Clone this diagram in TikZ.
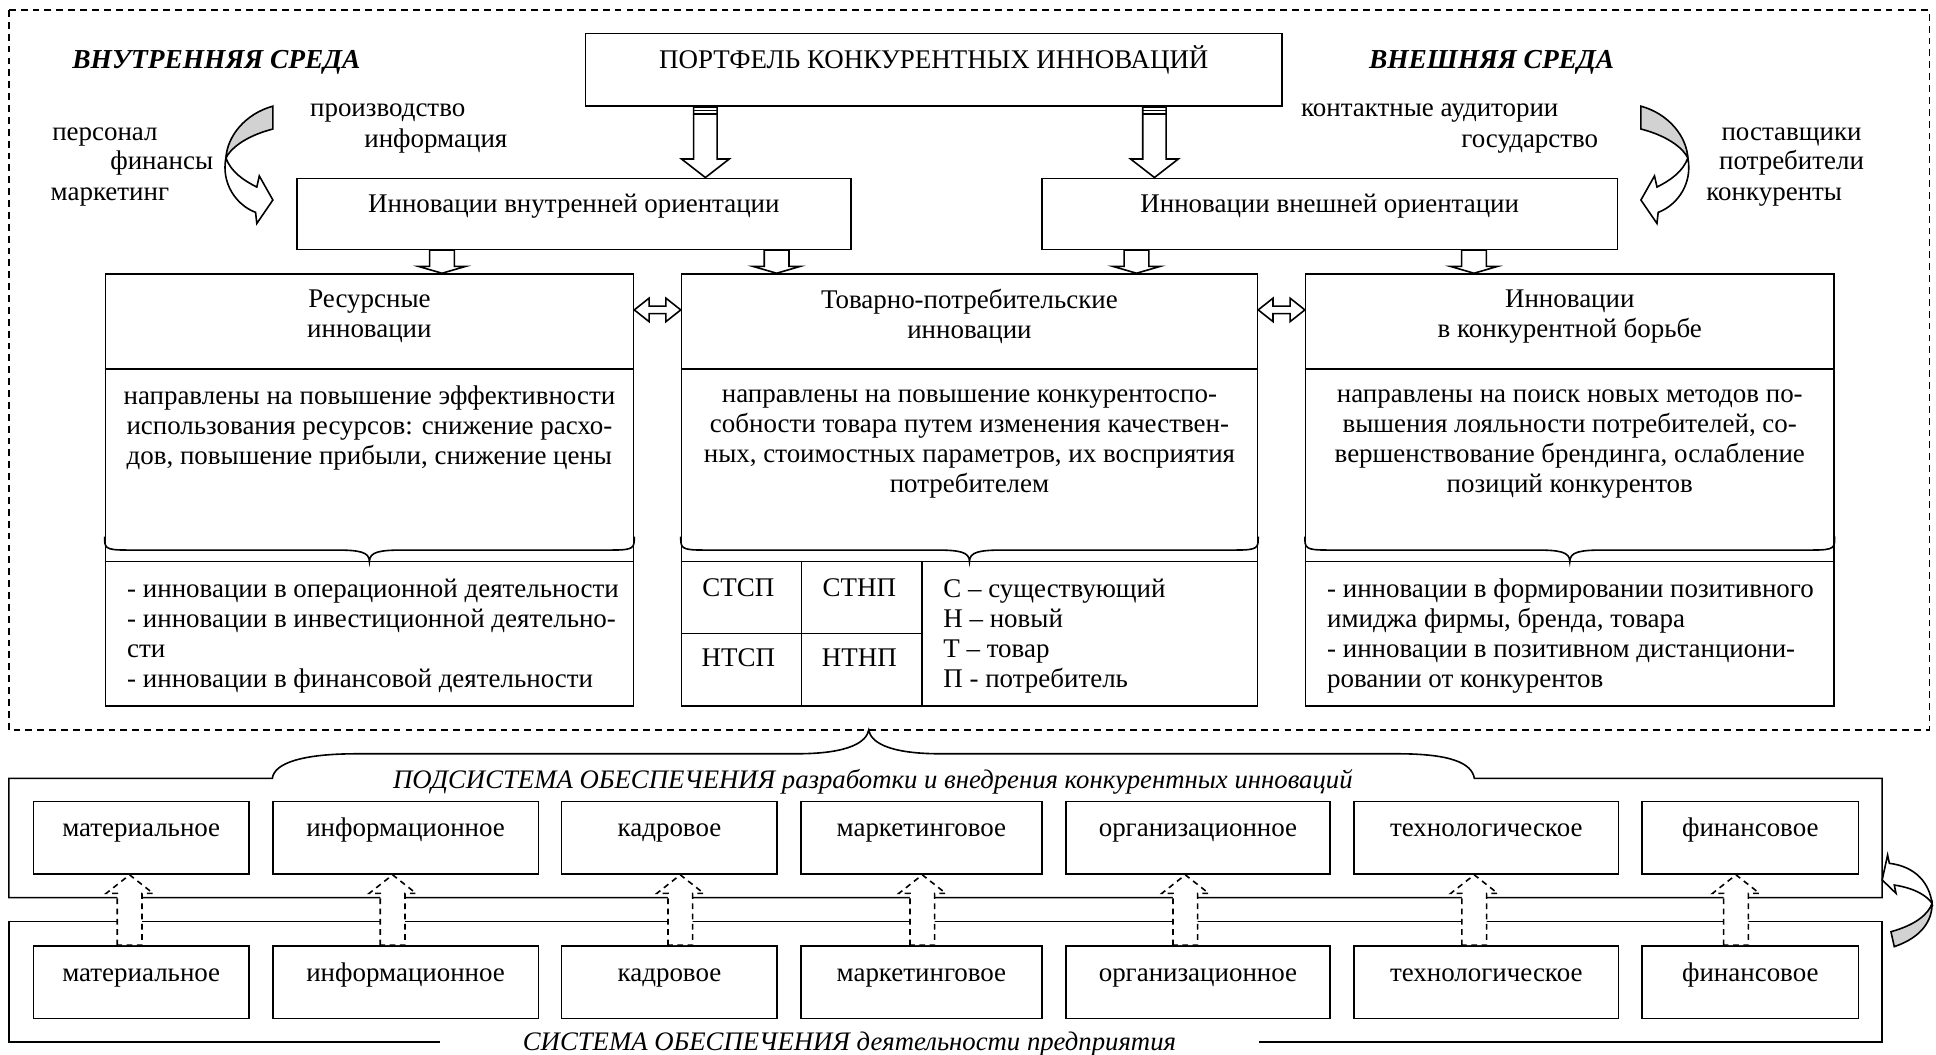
\documentclass[tikz,border=0pt]{standalone}
\usepackage{fontspec}
\setmainfont{Liberation Serif}
\usetikzlibrary{calc}

\newcommand\pxu{0.019cm}
% vertical block arrow: [opts]{from}{to}{shaft half width}{head half width}{head length, <0 when pointing up}
\newcommand\vblock[6][]{%
  \draw[fill=white,#1] let \p1=#2, \p2=#3, \n1={\y2+(#6)*\pxu} in
    (\x1-#4*\pxu,\y1) -- (\x1-#4*\pxu,\n1) -- (\x1-#5*\pxu,\n1)
    -- (\x1,\y2) -- (\x1+#5*\pxu,\n1) -- (\x1+#4*\pxu,\n1)
    -- (\x1+#4*\pxu,\y1) -- cycle;}
% horizontal double block arrow
\newcommand\hdouble[2]{%
  \draw[fill=white] let \p1=#1, \p2=#2 in
    (\x1,\y1) -- (\x1+12*\pxu,\y1+9.5*\pxu) -- (\x1+12*\pxu,\y1+3*\pxu) -- (\x2-12*\pxu,\y1+3*\pxu)
    -- (\x2-12*\pxu,\y1+9.5*\pxu) -- (\x2,\y1) -- (\x2-12*\pxu,\y1-9.5*\pxu) -- (\x2-12*\pxu,\y1-3*\pxu)
    -- (\x1+12*\pxu,\y1-3*\pxu) -- (\x1+12*\pxu,\y1-9.5*\pxu) -- cycle;}

\tikzset{curvarr/.pic={
  \draw[fill=gray!35] (0,0) .. controls (-22,6) and (-37,24) .. (-38,42)
    .. controls (-35,35.5) and (-24,24.7) .. (0,18.5) -- cycle;
  \draw[fill=white] (-38,42) .. controls (-42,62) and (-30,80) .. (-14,86) -- (-13,95) -- (0,76)
    -- (-11,56.5) -- (-13,65.5) .. controls (-24,60) and (-34,53) .. (-38,42) -- cycle;
}}

\begin{document}
\begin{tikzpicture}[x=\pxu, y=-\pxu, line width=0.7pt,
    font=\fontsize{11.8}{13.1}\selectfont,
    box/.style={draw, inner sep=0pt},
    upbox/.style={box, text height=8.5pt, text depth=9.3pt},
    txt/.style={inner sep=0pt, text height=8.5pt, text depth=2.6pt},
    para/.style={inner sep=0pt, align=center},
    lst/.style={inner sep=0pt, align=left, anchor=west},
    sreda/.style={txt, font=\fontsize{12}{13.1}\selectfont\bfseries\itshape},
    subsys/.style={txt, font=\fontsize{11.7}{13.1}\selectfont\itshape}]
  \useasboundingbox (0,0) rectangle (1568,854);

  % environment of the portfolio
  \draw[dash pattern=on 3pt off 2.2pt] (7.2,8.1) rectangle (1562.6,591.2);

  \node (port) [upbox, minimum width=564*\pxu, minimum height=59*\pxu] at (756.3,56.5) {ПОРТФЕЛЬ КОНКУРЕНТНЫХ ИННОВАЦИЙ};
  \node (inor) [upbox, minimum width=448.7*\pxu, minimum height=57.5*\pxu] at (464.8,173.2) {Инновации внутренней ориентации};
  \node (exor) [upbox, minimum width=466*\pxu, minimum height=57.5*\pxu] at (1077,173.2) {Инновации внешней ориентации};

  \node[sreda] (vnutr) at (175.3,50) {ВНУТРЕННЯЯ СРЕДА};
  \node[sreda] (vnesh) at (1208,50) {ВНЕШНЯЯ СРЕДА};
  \foreach \t/\xx/\yy [count=\i] in {персонал/85/108, финансы/131/132, маркетинг/89/157,
      производство/314/89, информация/353/114, контактные аудитории/1158/89, государство/1239/114,
      поставщики/1451/108, потребители/1451/132, конкуренты/1437/157}
    \node[txt] (env\i) at (\xx,\yy) {\t};

  \pic at (221,86) {curvarr};
  \pic[xscale=-1] at (1329,86) {curvarr};

  % striped arrows from the portfolio
  \foreach \xx/\b in {571.3/inor, 935/exor}{
    \vblock{(\xx,0 |- port.south)}{(\xx,0 |- \b.north)}{9.5}{19.3}{15}
    \draw (\xx-9.5,89.5) -- (\xx+9.5,89.5) (\xx-9.5,92.3) -- (\xx+9.5,92.3);
  }

  % three kinds of innovations
  \node (res) [box, minimum width=427.7*\pxu, minimum height=349.9*\pxu] at (299.2,396.9) {};
  \node (tov) [box, minimum width=466.4*\pxu, minimum height=349.9*\pxu] at (785.2,396.9) {};
  \node (kon) [box, minimum width=427.8*\pxu, minimum height=349.9*\pxu] at (1271.4,396.9) {};
  \foreach \b in {res,tov,kon}{
    \draw (\b.west |- 0,299.1) -- (\b.east |- 0,299.1);
    \draw (\b.west |- 0,454.9) -- (\b.east |- 0,454.9);
    \draw (\b.west |- 0,434.7) .. controls +(0,9) and +(-18,0) .. ++(18,10.8)
      -- ($(\b.center |- 0,445.5)+(-28,0)$) .. controls +(20,0) and +(0,-8) .. (\b.center |- 0,454.9)
      .. controls +(0,-8) and +(-20,0) .. ($(\b.center |- 0,445.5)+(28,0)$)
      -- ($(\b.east |- 0,445.5)+(-18,0)$) .. controls +(18,0) and +(0,9) .. (\b.east |- 0,434.7);
  }

  \foreach \xx/\a/\b in {358/inor/res, 629/inor/tov, 920.5/exor/tov, 1193.8/exor/kon}{
    \vblock{(\xx,0 |- \a.south)}{(\xx,0 |- \b.north)}{10}{19}{5.5}
  }
  \hdouble{(res.east |- 0,251)}{(tov.west |- 0,251)}
  \hdouble{(tov.east |- 0,251)}{(kon.west |- 0,251)}

  \node[para] (res-h) at (res.center |- 0,256.5) {Ресурсные\\инновации};
  \node[para] (tov-h) at (tov.center |- 0,256.5) {Товарно-потребительские\\инновации};
  \node[para] (kon-h) at (kon.center |- 0,256.5) {Инновации\\в конкурентной борьбе};

  \node[para] (res-d) at (res.center |- 0,347) {направлены на повышение эффективности\\использования ресурсов: снижение расхо-\\дов, повышение прибыли, снижение цены};
  \node[para] (tov-d) at (tov.center |- 0,359.5) {направлены на повышение конкурентоспо-\\собности товара путем изменения качествен-\\ных, стоимостных параметров, их восприятия\\потребителем};
  \node[para] (kon-d) at (kon.center |- 0,359.5) {направлены на поиск новых методов по-\\вышения лояльности потребителей, со-\\вершенствование брендинга, ослабление\\позиций конкурентов};

  \node[lst] (res-l) at (102.4,515) {- инновации в операционной деятельности\\- инновации в инвестиционной деятельно-\\сти\\- инновации в финансовой деятельности};
  \node[lst] (kon-l) at (1074.2,515) {- инновации в формировании позитивного\\имиджа фирмы, бренда, товара\\- инновации в позитивном дистанциони-\\ровании от конкурентов};

  % matrix of product / consumer
  \draw (649,454.9) -- (649,0 |- tov.south) (746.6,454.9) -- (746.6,0 |- tov.south);
  \draw (tov.west |- 0,513) -- (746.6,513);
  \node[txt] (m11) at (598,477.9) {СТСП};
  \node[txt] (m12) at (696,477.9) {СТНП};
  \node[txt] (m21) at (598,534.6) {НТСП};
  \node[txt] (m22) at (696,534.6) {НТНП};
  \node[lst] (legend) at (763.4,515) {С – существующий\\Н – новый\\Т – товар\\П - потребитель};

  % subsystem of support
  \draw (7.2,727) -- (7.2,630.4) -- (220.6,630.4) .. controls (222,618) and (245,610.5) .. (289,610.5)
    -- (645,610.5) .. controls (690,610.5) and (702,600) .. (703.6,591.2)
    .. controls (705,600) and (717,610.5) .. (762,610.5) -- (1131.8,610.5)
    .. controls (1175,610.5) and (1192,618) .. (1194.1,630.4) -- (1524.4,630.4) -- (1524.4,727) -- cycle;
  \node[subsys] (podsys) at (707,633.1) {ПОДСИСТЕМА ОБЕСПЕЧЕНИЯ разработки и внедрения конкурентных инноваций};

  \draw (356,843.7) -- (7.2,843.7) -- (7.2,746.5) -- (1524.4,746.5) -- (1524.4,843.7) -- (1020,843.7);
  \node[subsys] (sys) at (688,845) {СИСТЕМА ОБЕСПЕЧЕНИЯ деятельности предприятия};

  \foreach \t/\a/\b [count=\i] in {материальное/27/201.8, информационное/221/436, кадровое/454.9/629.5,
      маркетинговое/648.6/843.9, организационное/863.4/1077.1, технологическое/1096.6/1310.9,
      финансовое/1329.9/1505.3}{
    \node (up\i) [upbox, minimum width=(\b-\a)*\pxu, minimum height=58.6*\pxu] at ({(\a+\b)/2},678.6) {\t};
    \node (lo\i) [upbox, minimum width=(\b-\a)*\pxu, minimum height=58.6*\pxu] at ({(\a+\b)/2},795.5) {\t};
  }
  \foreach \xx [count=\i] in {105,318,551,747,960,1194,1406}{
    \vblock[dash pattern=on 2.5pt off 2pt]{(\xx,0 |- lo\i.north)}{(\xx,0 |- up\i.south)}{10}{19}{-15}
  }

  % feedback arrow on the right
  \draw[fill=gray!35] (1531.5,754.6) -- (1534.2,766.7) .. controls (1557,759) and (1565,745) .. (1564.8,731.6)
    .. controls (1562,740) and (1552,749) .. (1531.5,754.6) -- cycle;
  \draw[fill=white] (1564.8,731.6) .. controls (1562.6,715.4) and (1551.8,701.9) .. (1530.2,699.2)
    -- (1528.8,692.5) -- (1524.4,712.7) -- (1535.6,723.5) -- (1534.2,716.8)
    .. controls (1551.8,719.5) and (1561.2,726.2) .. (1564.8,731.6) -- cycle;
\end{tikzpicture}
\end{document}
